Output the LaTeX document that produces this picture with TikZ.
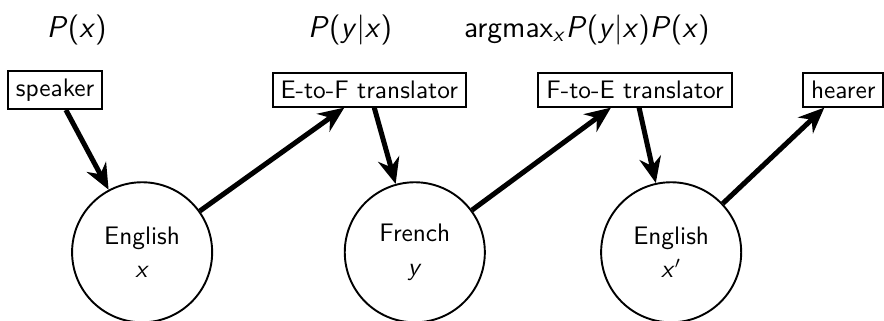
\documentclass[tikz,border=0pt]{standalone}
\usepackage{tikz}
\usetikzlibrary{arrows.meta,positioning,shapes.geometric}
\renewcommand{\familydefault}{\sfdefault}

\begin{document}
\begin{tikzpicture}[every node/.style={font=\sffamily\fontsize{10.6}{13}\selectfont},
  lbl/.style={font=\sffamily\fontsize{12.6}{15}\selectfont},
  box/.style={draw,line width=0.8pt},
  lang/.style={draw,circle,line width=0.8pt,minimum size=2.06cm,align=center},
  flow/.style={-{Stealth[length=3.8mm,width=3.2mm]},line width=2.1pt}]
  \useasboundingbox (0,0) rectangle (13,4.72);

  % models
  \node[lbl] (px) at (1.13,4.28) {\textit{P}(\textit{x})};
  \node[lbl] (pyx) at (5.15,4.28) {\textit{P}(\textit{y}|\textit{x})};
  \node[lbl] (amax) at (8.63,4.28)
    {argmax\textsubscript{\textit{x}}\textit{P}(\textit{y}|\textit{x})\textit{P}(\textit{x})};

  % agents
  \node[box] (spk) at (0.81,3.40) {speaker};
  \node[box] (ef) at (5.43,3.40) {E-to-F translator};
  \node[box] (fe) at (9.34,3.40) {F-to-E translator};
  \node[box] (hr) at (12.40,3.40) {hearer};

  % messages
  \node[lang] (en) at (2.09,1.01) {English\\[1pt]\textit{x}};
  \node[lang] (fr) at (6.10,1.01) {French\\[1pt]\textit{y}};
  \node[lang] (en2) at (9.87,1.01) {English\\[1pt]\textit{x}$'$};

  \draw[flow](spk)--(en);
  \draw[flow](en)--(ef);
  \draw[flow](ef)--(fr);
  \draw[flow](fr)--(fe);
  \draw[flow](fe)--(en2);
  \draw[flow](en2)--(hr);
\end{tikzpicture}
\end{document}
